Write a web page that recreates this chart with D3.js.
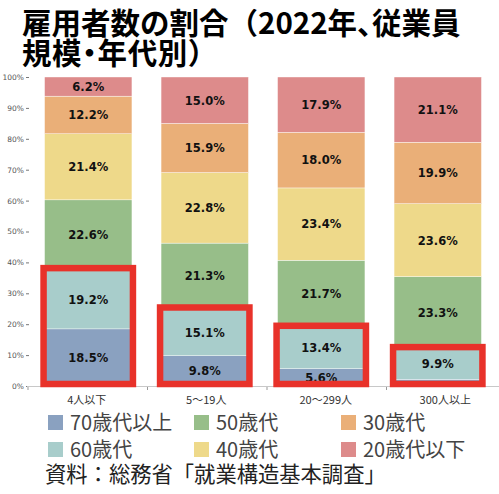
<!DOCTYPE html>
<html>
<head>
<meta charset="utf-8">
<script src="https://cdn.jsdelivr.net/npm/d3@7"></script>
<style>
  body { margin: 0; background: #fff; }
  svg { display: block; }
</style>
</head>
<body>
<svg id="chart" width="499" height="494"></svg>
<script>
// 従業員規模（カテゴリ）
const sizes = ["4人以下", "5～19人", "20～299人", "300人以上"];
// 年代（下から積み上げ順）
const ages = ["70歳代以上", "60歳代", "50歳代", "40歳代", "30歳代", "20歳代以下"];
const age70 = [18.5, 9.8, 5.6, 2.2];
const age60 = [19.2, 15.1, 13.4, 9.9];
const age50 = [22.6, 21.3, 21.7, 23.3];
const age40 = [21.4, 22.8, 23.4, 23.6];
const age30 = [12.2, 15.9, 18.0, 19.9];
const age20 = [6.2, 15.0, 17.9, 21.1];
const yTicks = [0, 10, 20, 30, 40, 50, 60, 70, 80, 90, 100];
const colors = ["#8aa1c0", "#a8cdcb", "#97be89", "#eed98a", "#eaaf78", "#dd8b8b"];

const seriesValues = [age70, age60, age50, age40, age30, age20];
const table = sizes.map((s, i) => {
    const row = {size: s};
    ages.forEach((a, j) => row[a] = seriesValues[j][i]);
    return row;
});

const svg = d3.select('#chart');
const fontJP = '"Noto Sans CJK JP", "Noto Sans", sans-serif';

// タイトル（2行）
const title1 = svg.append('text')
    .attr('x', 22)
    .attr('y', 34)
    .attr('font-family', fontJP)
    .attr('font-weight', 'bold')
    .attr('font-size', 29.5)
    .attr('fill', '#000');
title1.append('tspan').text('雇用者数の割合（2022年');
title1.append('tspan').style('font-feature-settings', '"palt"').text('、');
title1.append('tspan').text('従業員');
const title2 = svg.append('text')
    .attr('x', 22)
    .attr('y', 64)
    .attr('font-family', fontJP)
    .attr('font-weight', 'bold')
    .attr('font-size', 29.5)
    .attr('letter-spacing', 0.6)
    .attr('fill', '#000');
title2.append('tspan').text('規模');
title2.append('tspan').style('font-feature-settings', '"palt"').text('・');
title2.append('tspan').text('年代別）');

// スケール（棒の位置と軸ラベルの位置は元図で少しずれている）
const xScale = d3.scaleBand()
    .domain(sizes)
    .range([30, 496])
    .paddingInner(0.25)
    .paddingOuter(0.125);
const xAxisScale = d3.scaleBand()
    .domain(sizes)
    .range([27, 505]);
const yScale = d3.scaleLinear()
    .domain([0, 100])
    .range([386, 77]);

const stack = d3.stack().keys(ages).offset(d3.stackOffsetExpand);
const series = stack(table);

// y軸
const yAxis = d3.axisLeft(yScale)
    .tickValues(yTicks)
    .tickFormat(d => d + '%')
    .tickSize(3)
    .tickPadding(2);
const yAxisGroup = svg.append('g')
    .attr('transform', 'translate(29, 0)')
    .call(yAxis);
yAxisGroup.select('.domain').remove();
yAxisGroup.selectAll('.tick line').attr('stroke', '#777');
yAxisGroup.selectAll('.tick text')
    .attr('font-family', '"DejaVu Sans", Verdana, sans-serif')
    .attr('font-size', 7.5)
    .attr('fill', '#555');

// x軸
const xAxisGroup = svg.append('g')
    .attr('transform', 'translate(0, 386)')
    .call(d3.axisBottom(xAxisScale).tickSize(0).tickPadding(10));
xAxisGroup.select('.domain').attr('stroke', '#c8c8c8').attr('d', 'M27,0.5H499');
xAxisGroup.selectAll('.tick text')
    .attr('font-family', fontJP)
    .attr('font-size', 11)
    .attr('fill', '#333');
// カテゴリ境界の小さな目盛
xAxisGroup.selectAll('.sep')
    .data(sizes)
    .join('line')
    .attr('class', 'sep')
    .attr('x1', d => xAxisScale(d) + 1)
    .attr('x2', d => xAxisScale(d) + 1)
    .attr('y1', 1)
    .attr('y2', 4)
    .attr('stroke', '#999');

// 積み上げ棒
const g = svg.append('g');
const layers = g.selectAll('.layer')
    .data(series)
    .join('g')
    .attr('class', 'layer')
    .attr('fill', (d, i) => colors[i]);
layers.selectAll('rect')
    .data(d => d)
    .join('rect')
    .attr('x', d => xScale(d.data.size))
    .attr('width', xScale.bandwidth())
    .attr('y', d => yScale(d[1] * 100))
    .attr('height', d => yScale(d[0] * 100) - yScale(d[1] * 100))
    .attr('stroke', '#fff')
    .attr('stroke-width', 0.4);

// 値ラベル
layers.selectAll('text')
    .data((d, i) => d.map(p => ({p: p, v: seriesValues[i][sizes.indexOf(p.data.size)]})))
    .join('text')
    .filter(d => d.v >= 5)
    .attr('x', d => xScale(d.p.data.size) + xScale.bandwidth() / 2)
    .attr('y', d => yScale((d.p[0] + d.p[1]) / 2 * 100))
    .attr('dy', '0.38em')
    .attr('text-anchor', 'middle')
    .attr('font-family', '"DejaVu Sans", Verdana, sans-serif')
    .attr('font-weight', 'bold')
    .attr('font-size', 11.5)
    .attr('fill', '#111')
    .text(d => d.v.toFixed(1) + '%');

// 赤枠（60歳代以上）
const upper = series[1];
g.selectAll('.hl')
    .data(upper)
    .join('rect')
    .attr('class', 'hl')
    .attr('x', d => xScale(d.data.size) - 1)
    .attr('width', xScale.bandwidth() + 2)
    .attr('y', d => yScale(d[1] * 100) - 1.5)
    .attr('height', d => 386 - yScale(d[1] * 100) - 0.5)
    .attr('fill', 'none')
    .attr('stroke', '#e8322a')
    .attr('stroke-width', 6.5);

// 凡例
const legend = svg.append('g').selectAll('.legend')
    .data(ages)
    .join('g')
    .attr('class', 'legend')
    .attr('transform', (d, i) => `translate(${[48, 194, 341][Math.floor(i / 2)]}, ${415 + (i % 2) * 27})`);
legend.append('rect')
    .attr('width', 15)
    .attr('height', 15)
    .attr('fill', (d, i) => colors[i]);
legend.append('text')
    .attr('x', 22)
    .attr('y', 7.5)
    .attr('dy', '0.36em')
    .attr('font-family', fontJP)
    .attr('font-size', 20)
    .attr('fill', '#444')
    .text(d => d);

// 出典
svg.append('text')
    .attr('x', 45)
    .attr('y', 482)
    .attr('font-family', fontJP)
    .attr('font-size', 21.3)
    .attr('fill', '#222')
    .text('資料：総務省「就業構造基本調査」');
</script>
</body>
</html>
